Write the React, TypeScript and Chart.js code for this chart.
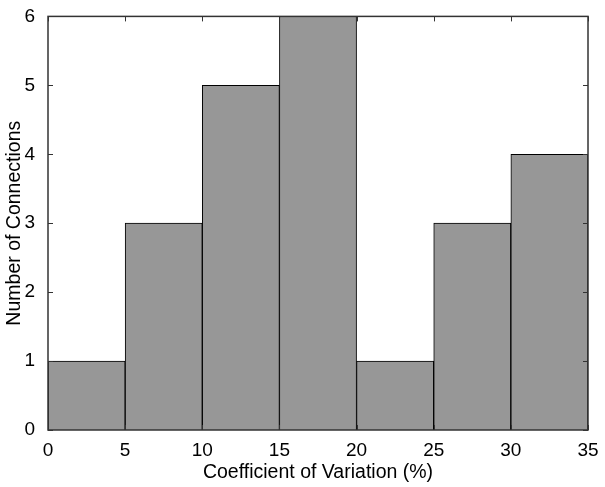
import React, { useEffect, useRef } from "react";
import { Chart, registerables } from "chart.js";

Chart.register(...registerables);

const binCenters = [2.5, 7.5, 12.5, 17.5, 22.5, 27.5, 32.5];
const counts = [1, 3, 5, 6, 1, 3, 4];
const xTicks = [0, 5, 10, 15, 20, 25, 30, 35];
const yTicks = [0, 1, 2, 3, 4, 5, 6];
const xTitle = "Coefficient of Variation (%)";
const yTitle = "Number of Connections";

const FONT = "'Liberation Sans', Arial, Helvetica, sans-serif";

const framePlugin = {
  id: "frame",
  afterDatasetsDraw(chart: any) {
    const { ctx, chartArea } = chart;
    const { left, right, top, bottom } = chartArea;
    const xs = chart.scales.x;
    const ys = chart.scales.y;
    ctx.save();
    ctx.strokeStyle = "#333333";
    ctx.lineWidth = 1.5;
    ctx.strokeRect(left, top, right - left, bottom - top);
    ctx.lineWidth = 1;
    const tl = 5;
    ctx.beginPath();
    xTicks.forEach((v) => {
      const px = Math.round(xs.getPixelForValue(v)) + 0.5;
      ctx.moveTo(px, bottom);
      ctx.lineTo(px, bottom - tl);
      ctx.moveTo(px, top);
      ctx.lineTo(px, top + tl);
    });
    yTicks.forEach((v) => {
      const py = Math.round(ys.getPixelForValue(v)) + 0.5;
      ctx.moveTo(left, py);
      ctx.lineTo(left + tl, py);
      ctx.moveTo(right, py);
      ctx.lineTo(right - tl, py);
    });
    ctx.stroke();
    ctx.restore();
  },
};

export default function App() {
  const ref = useRef<HTMLCanvasElement>(null);
  useEffect(() => {
    document.body.style.margin = "0";
    const chart = new Chart(ref.current!, {
      type: "bar",
      data: {
        datasets: [
          {
            data: binCenters.map((x, i) => ({ x, y: counts[i] })),
            backgroundColor: "#979797",
            borderColor: "#000000",
            borderWidth: 1,
            barPercentage: 1,
            categoryPercentage: 1,
          },
        ],
      },
      options: {
        animation: false,
        responsive: false,
        events: [],
        layout: { padding: { left: 0, top: 14, right: 17, bottom: 0 } },
        plugins: { legend: { display: false }, tooltip: { enabled: false } },
        scales: {
          x: {
            type: "linear",
            min: 0,
            max: 35,
            offset: false,
            afterFit(s: any) {
              s.height = 57;
            },
            afterBuildTicks(s: any) {
              s.ticks = xTicks.map((v) => ({ value: v }));
            },
            grid: { display: false },
            border: { display: false },
            ticks: {
              color: "#000",
              font: { family: FONT, size: 19 },
              padding: 1,
              maxRotation: 0,
              autoSkip: false,
            },
            title: {
              display: true,
              text: xTitle,
              color: "#000",
              font: { family: FONT, size: 19.5 },
              padding: { top: 0, bottom: 3 },
            },
          },
          y: {
            min: 0,
            max: 6,
            afterFit(s: any) {
              s.width = 48;
            },
            afterBuildTicks(s: any) {
              s.ticks = yTicks.map((v) => ({ value: v }));
            },
            grid: { display: false },
            border: { display: false },
            ticks: {
              color: "#000",
              font: { family: FONT, size: 19 },
              padding: 5,
            },
            title: {
              display: true,
              text: yTitle,
              color: "#000",
              font: { family: FONT, size: 19.5 },
              padding: { top: 3, bottom: 0 },
            },
          },
        },
      },
      plugins: [framePlugin],
    });
    return () => chart.destroy();
  }, []);
  return (
    <div style={{ width: 605, height: 487, background: "#fff" }}>
      <canvas ref={ref} width={605} height={487} />
    </div>
  );
}
